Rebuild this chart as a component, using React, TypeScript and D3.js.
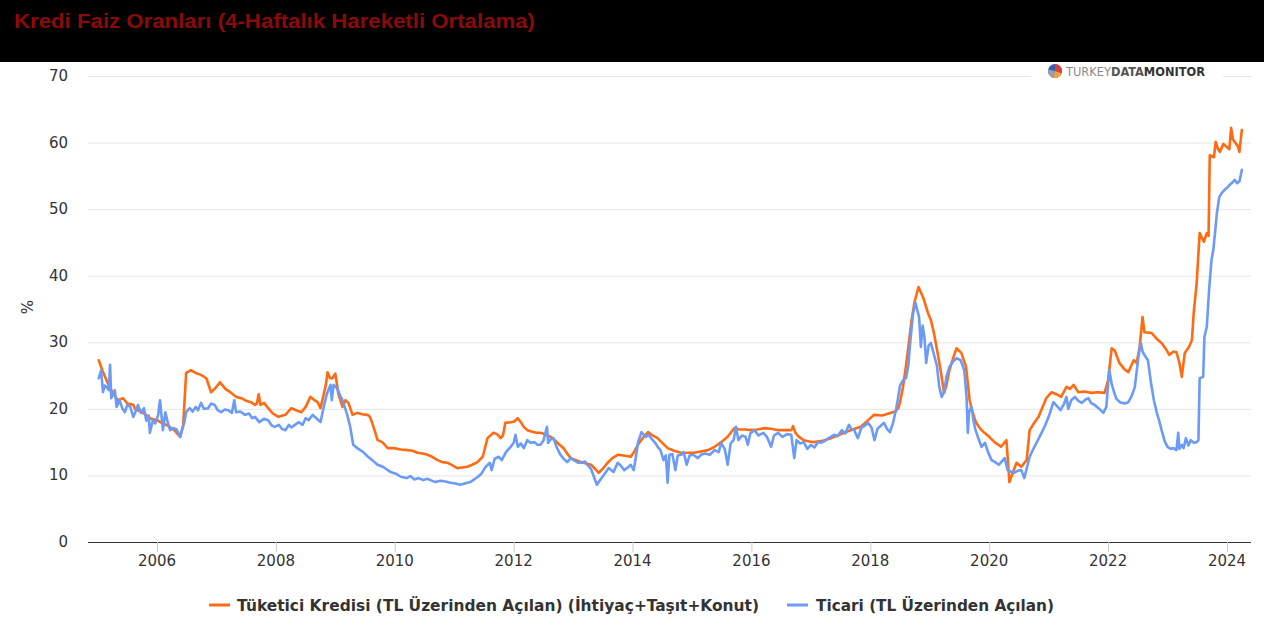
import * as d3 from "d3";

// decimal year, %
const tuketici: [number, number][] = [
  [2005.02, 27.3], [2005.08, 25.8], [2005.17, 23.9], [2005.25, 22.5], [2005.34, 21.3], [2005.43, 21.6],
  [2005.5, 20.8], [2005.6, 20.6], [2005.63, 20.0], [2005.72, 19.6], [2005.8, 19.2], [2005.9, 18.5],
  [2006.0, 18.3], [2006.1, 17.8], [2006.2, 17.4], [2006.3, 16.7], [2006.39, 15.8], [2006.44, 17.5],
  [2006.49, 25.4], [2006.57, 25.8], [2006.65, 25.4], [2006.74, 25.1], [2006.83, 24.6], [2006.91, 22.5],
  [2006.97, 23.0], [2007.06, 24.0], [2007.15, 23.0], [2007.25, 22.4], [2007.33, 21.8], [2007.42, 21.6],
  [2007.5, 21.2], [2007.58, 21.0], [2007.65, 20.6], [2007.68, 20.8], [2007.71, 22.2], [2007.74, 20.6],
  [2007.8, 20.9], [2007.87, 20.1], [2007.95, 19.3], [2008.04, 18.8], [2008.16, 19.1], [2008.26, 20.1],
  [2008.34, 19.8], [2008.43, 19.5], [2008.5, 20.3], [2008.58, 21.8], [2008.65, 21.3], [2008.7, 21.0],
  [2008.75, 20.1], [2008.8, 22.0], [2008.84, 23.6], [2008.87, 25.5], [2008.91, 24.6], [2008.95, 24.6],
  [2009.0, 25.3], [2009.05, 22.3], [2009.12, 20.3], [2009.17, 21.3], [2009.22, 20.9], [2009.29, 19.1],
  [2009.37, 19.4], [2009.45, 19.2], [2009.54, 19.1], [2009.58, 18.8], [2009.62, 17.9], [2009.67, 16.5],
  [2009.71, 15.3], [2009.79, 15.0], [2009.88, 14.1], [2009.98, 14.1], [2010.1, 13.9], [2010.21, 13.8],
  [2010.3, 13.7], [2010.38, 13.4], [2010.47, 13.3], [2010.55, 13.1], [2010.63, 12.8], [2010.72, 12.3],
  [2010.8, 12.0], [2010.89, 11.9], [2010.97, 11.5], [2011.05, 11.1], [2011.13, 11.2], [2011.22, 11.3],
  [2011.3, 11.6], [2011.39, 12.0], [2011.48, 12.8], [2011.52, 14.2], [2011.56, 15.6], [2011.66, 16.4],
  [2011.72, 16.2], [2011.78, 15.6], [2011.82, 16.0], [2011.86, 17.9], [2011.95, 18.0], [2012.01, 18.1],
  [2012.07, 18.6], [2012.12, 18.0], [2012.17, 17.3], [2012.23, 16.8], [2012.3, 16.6], [2012.38, 16.4],
  [2012.45, 16.4], [2012.53, 16.2], [2012.62, 15.8], [2012.7, 15.2], [2012.77, 14.6], [2012.84, 14.1],
  [2012.9, 13.3], [2012.96, 12.6], [2013.05, 12.3], [2013.13, 12.0], [2013.22, 11.8], [2013.3, 11.6],
  [2013.37, 11.0], [2013.43, 10.4], [2013.5, 11.0], [2013.58, 11.9], [2013.66, 12.6], [2013.75, 13.1],
  [2013.85, 13.0], [2013.97, 12.8], [2014.03, 13.6], [2014.09, 14.6], [2014.17, 15.6], [2014.26, 16.5],
  [2014.34, 16.0], [2014.42, 15.6], [2014.5, 14.9], [2014.59, 14.1], [2014.7, 13.7], [2014.81, 13.4],
  [2014.92, 13.4], [2015.03, 13.4], [2015.15, 13.6], [2015.27, 13.8], [2015.38, 14.3], [2015.49, 15.0],
  [2015.6, 15.8], [2015.71, 17.1], [2015.8, 16.9], [2015.9, 16.9], [2015.99, 16.8], [2016.1, 16.9],
  [2016.21, 17.1], [2016.33, 17.0], [2016.45, 16.8], [2016.56, 16.8], [2016.67, 16.8], [2016.7, 17.4],
  [2016.74, 16.4], [2016.8, 15.8], [2016.88, 15.3], [2016.97, 15.1], [2017.05, 15.0], [2017.2, 15.2],
  [2017.34, 15.6], [2017.45, 16.0], [2017.56, 16.4], [2017.7, 16.9], [2017.84, 17.3], [2017.95, 18.2],
  [2018.06, 19.1], [2018.2, 19.0], [2018.35, 19.4], [2018.42, 19.6], [2018.47, 20.1], [2018.5, 21.0],
  [2018.55, 23.3], [2018.6, 26.5], [2018.64, 29.3], [2018.69, 33.0], [2018.74, 35.9], [2018.81, 38.3],
  [2018.89, 36.7], [2018.97, 34.4], [2019.02, 33.3], [2019.07, 31.4], [2019.13, 28.5], [2019.19, 25.4],
  [2019.24, 22.4], [2019.28, 23.5], [2019.33, 25.8], [2019.4, 27.8], [2019.45, 29.1], [2019.53, 28.4],
  [2019.61, 26.3], [2019.67, 21.3], [2019.72, 19.5], [2019.78, 17.9], [2019.85, 17.0], [2019.92, 16.4],
  [2020.0, 15.8], [2020.09, 15.0], [2020.2, 14.3], [2020.29, 15.3], [2020.34, 9.0], [2020.4, 10.5],
  [2020.46, 11.9], [2020.54, 11.3], [2020.63, 12.3], [2020.68, 16.8], [2020.75, 17.8], [2020.83, 18.8],
  [2020.9, 20.3], [2020.96, 21.6], [2021.05, 22.5], [2021.13, 22.2], [2021.21, 21.8], [2021.3, 23.3],
  [2021.36, 23.0], [2021.42, 23.6], [2021.5, 22.5], [2021.6, 22.6], [2021.72, 22.4], [2021.83, 22.5],
  [2021.94, 22.4], [2022.0, 24.3], [2022.06, 29.1], [2022.11, 28.8], [2022.19, 26.9], [2022.27, 26.0],
  [2022.34, 25.5], [2022.43, 27.3], [2022.48, 26.9], [2022.53, 29.3], [2022.58, 33.8], [2022.61, 31.5],
  [2022.73, 31.4], [2022.82, 30.5], [2022.9, 29.9], [2022.97, 29.0], [2023.03, 28.1], [2023.1, 28.6],
  [2023.15, 28.5], [2023.2, 26.9], [2023.24, 24.8], [2023.29, 28.4], [2023.36, 29.3], [2023.41, 30.3],
  [2023.44, 34.4], [2023.49, 38.9], [2023.54, 46.4], [2023.61, 45.1], [2023.66, 46.4], [2023.69, 46.0],
  [2023.71, 58.1], [2023.78, 57.8], [2023.81, 60.1], [2023.85, 59.0], [2023.88, 58.6], [2023.94, 59.8],
  [2024.0, 59.3], [2024.04, 59.0], [2024.07, 62.2], [2024.1, 60.5], [2024.13, 60.1], [2024.18, 59.5],
  [2024.21, 58.6], [2024.25, 61.9],
];

const ticari: [number, number][] = [
  [2005.02, 24.6], [2005.06, 25.8], [2005.09, 22.5], [2005.12, 23.5], [2005.15, 23.3], [2005.19, 22.8],
  [2005.21, 26.6], [2005.23, 21.6], [2005.29, 22.8], [2005.32, 20.3], [2005.37, 21.3], [2005.42, 20.0],
  [2005.46, 19.5], [2005.5, 20.6], [2005.55, 20.3], [2005.6, 18.8], [2005.64, 19.6], [2005.68, 20.6],
  [2005.73, 19.4], [2005.78, 20.1], [2005.82, 18.2], [2005.86, 19.0], [2005.88, 16.4], [2005.93, 18.3],
  [2005.97, 17.8], [2006.02, 19.1], [2006.05, 21.3], [2006.1, 16.8], [2006.14, 19.5], [2006.18, 18.0],
  [2006.22, 16.8], [2006.28, 17.1], [2006.33, 16.9], [2006.39, 15.8], [2006.42, 16.8], [2006.46, 18.0],
  [2006.49, 19.5], [2006.55, 20.1], [2006.6, 19.6], [2006.65, 20.3], [2006.69, 19.8], [2006.74, 20.9],
  [2006.79, 20.0], [2006.86, 20.1], [2006.91, 20.8], [2006.97, 20.6], [2007.02, 19.8], [2007.08, 19.5],
  [2007.14, 19.9], [2007.2, 19.8], [2007.26, 19.4], [2007.3, 21.3], [2007.33, 19.5], [2007.4, 19.6],
  [2007.48, 19.1], [2007.55, 19.3], [2007.6, 18.6], [2007.65, 18.8], [2007.72, 18.0], [2007.8, 18.5],
  [2007.87, 18.3], [2007.93, 17.5], [2007.98, 17.3], [2008.05, 17.6], [2008.1, 17.0], [2008.16, 16.8],
  [2008.22, 17.6], [2008.26, 17.2], [2008.32, 17.6], [2008.38, 18.0], [2008.45, 17.6], [2008.5, 18.6],
  [2008.55, 18.3], [2008.62, 19.1], [2008.68, 18.6], [2008.75, 18.0], [2008.8, 20.1], [2008.85, 22.0],
  [2008.88, 22.8], [2008.92, 23.6], [2008.94, 21.3], [2008.97, 23.6], [2009.03, 23.1], [2009.08, 22.0],
  [2009.12, 21.3], [2009.2, 19.1], [2009.25, 17.3], [2009.3, 14.6], [2009.37, 14.1], [2009.47, 13.5],
  [2009.55, 12.8], [2009.62, 12.3], [2009.71, 11.6], [2009.8, 11.3], [2009.93, 10.5], [2010.03, 10.2],
  [2010.1, 9.8], [2010.2, 9.6], [2010.26, 9.9], [2010.33, 9.4], [2010.4, 9.6], [2010.48, 9.3],
  [2010.55, 9.5], [2010.6, 9.3], [2010.68, 9.0], [2010.77, 9.2], [2010.85, 9.1], [2010.94, 8.9],
  [2011.02, 8.8], [2011.1, 8.6], [2011.18, 8.8], [2011.27, 9.0], [2011.35, 9.5], [2011.4, 9.8],
  [2011.46, 10.3], [2011.53, 11.3], [2011.6, 11.9], [2011.63, 10.8], [2011.68, 12.5], [2011.75, 12.8],
  [2011.8, 12.3], [2011.87, 13.5], [2011.95, 14.3], [2012.0, 14.9], [2012.03, 16.1], [2012.07, 14.3],
  [2012.12, 14.8], [2012.17, 14.1], [2012.23, 15.3], [2012.28, 14.9], [2012.35, 15.0], [2012.4, 14.6],
  [2012.45, 14.6], [2012.5, 15.2], [2012.56, 17.3], [2012.58, 14.9], [2012.62, 15.4], [2012.67, 15.6],
  [2012.72, 14.3], [2012.78, 13.2], [2012.84, 12.5], [2012.9, 12.0], [2012.96, 12.6], [2013.03, 12.2],
  [2013.08, 11.9], [2013.13, 11.9], [2013.2, 12.1], [2013.24, 11.6], [2013.3, 11.0], [2013.35, 9.8],
  [2013.4, 8.6], [2013.46, 9.4], [2013.52, 10.1], [2013.6, 11.1], [2013.68, 10.5], [2013.75, 11.9],
  [2013.8, 11.5], [2013.86, 10.8], [2013.92, 11.2], [2013.97, 11.6], [2014.02, 10.8], [2014.06, 13.0],
  [2014.09, 14.9], [2014.15, 16.5], [2014.22, 15.8], [2014.27, 16.1], [2014.33, 15.4], [2014.38, 14.9],
  [2014.43, 14.2], [2014.47, 13.8], [2014.52, 12.3], [2014.56, 13.0], [2014.59, 8.9], [2014.62, 13.1],
  [2014.67, 13.2], [2014.72, 10.8], [2014.76, 13.0], [2014.82, 13.1], [2014.86, 13.5], [2014.91, 11.6],
  [2014.96, 13.0], [2015.02, 13.1], [2015.1, 12.6], [2015.15, 13.1], [2015.22, 13.3], [2015.3, 13.1],
  [2015.38, 13.8], [2015.45, 13.5], [2015.49, 14.9], [2015.55, 14.0], [2015.6, 11.6], [2015.65, 14.8],
  [2015.7, 15.3], [2015.74, 17.3], [2015.78, 15.3], [2015.84, 16.0], [2015.9, 15.8], [2015.94, 14.6],
  [2015.98, 16.3], [2016.05, 16.8], [2016.12, 16.0], [2016.2, 16.4], [2016.26, 15.8], [2016.33, 14.3],
  [2016.38, 16.0], [2016.45, 16.4], [2016.52, 15.8], [2016.6, 16.2], [2016.67, 16.1], [2016.72, 12.6],
  [2016.76, 15.3], [2016.82, 14.8], [2016.88, 15.0], [2016.94, 14.0], [2017.0, 14.6], [2017.06, 14.2],
  [2017.12, 15.0], [2017.17, 14.9], [2017.24, 15.2], [2017.3, 15.6], [2017.39, 16.1], [2017.45, 15.9],
  [2017.52, 16.8], [2017.58, 16.3], [2017.64, 17.6], [2017.68, 17.0], [2017.73, 16.8], [2017.79, 15.6],
  [2017.85, 17.2], [2017.91, 17.5], [2017.96, 17.9], [2018.02, 17.2], [2018.07, 15.3], [2018.12, 17.0],
  [2018.18, 17.5], [2018.23, 17.9], [2018.28, 17.0], [2018.33, 16.5], [2018.38, 17.8], [2018.43, 19.8],
  [2018.46, 21.3], [2018.5, 23.5], [2018.55, 24.3], [2018.6, 24.6], [2018.64, 26.5], [2018.67, 29.9],
  [2018.72, 34.4], [2018.76, 35.9], [2018.8, 34.5], [2018.82, 33.8], [2018.85, 29.3], [2018.88, 32.5],
  [2018.91, 30.8], [2018.94, 26.9], [2018.98, 29.5], [2019.02, 29.9], [2019.08, 27.8], [2019.12, 26.5],
  [2019.16, 23.3], [2019.2, 21.8], [2019.24, 22.5], [2019.28, 24.8], [2019.33, 26.3], [2019.4, 27.2],
  [2019.45, 27.6], [2019.52, 27.3], [2019.58, 25.8], [2019.62, 21.6], [2019.64, 16.4], [2019.66, 19.5],
  [2019.7, 20.3], [2019.74, 18.0], [2019.77, 16.8], [2019.82, 15.5], [2019.87, 14.3], [2019.93, 14.9],
  [2019.98, 13.5], [2020.04, 12.3], [2020.1, 12.0], [2020.16, 11.6], [2020.22, 12.2], [2020.26, 12.6],
  [2020.31, 10.8], [2020.36, 10.6], [2020.42, 10.4], [2020.48, 10.7], [2020.54, 10.8], [2020.59, 9.6],
  [2020.63, 11.0], [2020.68, 12.8], [2020.76, 14.3], [2020.83, 15.5], [2020.88, 16.4], [2020.94, 17.5],
  [2021.0, 18.8], [2021.08, 21.0], [2021.14, 20.4], [2021.2, 19.8], [2021.26, 20.8], [2021.3, 21.8],
  [2021.33, 20.0], [2021.38, 21.3], [2021.44, 21.8], [2021.5, 21.2], [2021.56, 20.9], [2021.62, 21.4],
  [2021.67, 21.6], [2021.71, 20.9], [2021.77, 20.6], [2021.84, 20.1], [2021.92, 19.4], [2021.97, 20.3],
  [2022.02, 25.8], [2022.06, 23.8], [2022.09, 22.8], [2022.14, 21.5], [2022.2, 21.0], [2022.28, 20.8],
  [2022.34, 21.0], [2022.4, 22.0], [2022.45, 23.3], [2022.51, 27.8], [2022.55, 29.9], [2022.58, 28.6],
  [2022.61, 28.1], [2022.67, 27.3], [2022.72, 24.0], [2022.77, 21.3], [2022.82, 19.4], [2022.86, 18.2],
  [2022.9, 16.8], [2022.95, 15.2], [2023.0, 14.3], [2023.05, 14.0], [2023.1, 14.1], [2023.15, 13.8],
  [2023.18, 16.4], [2023.2, 14.0], [2023.24, 14.6], [2023.27, 14.1], [2023.31, 15.6], [2023.35, 14.5],
  [2023.39, 15.3], [2023.44, 14.9], [2023.49, 15.0], [2023.52, 15.3], [2023.54, 24.6], [2023.6, 24.8],
  [2023.62, 30.8], [2023.66, 32.3], [2023.7, 38.0], [2023.74, 42.4], [2023.77, 43.9], [2023.8, 46.5],
  [2023.83, 49.4], [2023.87, 51.8], [2023.91, 52.4], [2023.96, 52.9], [2024.0, 53.2], [2024.04, 53.6],
  [2024.09, 54.0], [2024.13, 54.4], [2024.17, 53.9], [2024.21, 54.2], [2024.25, 55.9],
];

const yTicks = [0, 10, 20, 30, 40, 50, 60, 70];
const xTicks = [2006, 2008, 2010, 2012, 2014, 2016, 2018, 2020, 2022, 2024];

const title = "Kredi Faiz Oranları (4-Haftalık Hareketli Ortalama)";
const seriesNames = ["Tüketici Kredisi (TL Üzerinden Açılan) (İhtiyaç+Taşıt+Konut)", "Ticari (TL Üzerinden Açılan)"];
const seriesColors = ["#ff6a13", "#6b9bf7"];

const W = 1264;
const H = 641;
const plot = { left: 88, right: 1251, top: 76, bottom: 542 };
const font = "'DejaVu Sans', Verdana, sans-serif";

function App() {
  const x = d3.scaleLinear().domain([2004.839, 2024.404]).range([plot.left, plot.right]);
  const y = d3.scaleLinear().domain([0, 70]).range([plot.bottom, plot.top]);
  const line = d3.line<[number, number]>().x((d) => x(d[0])).y((d) => y(d[1]));

  return (
    <svg width={W} height={H} style={{ position: "absolute", left: 0, top: 0, background: "#fff" }}>
      <rect x={0} y={0} width={W} height={62} fill="#000" />
      <text x={14} y={28} fontFamily="'Liberation Sans', Arial, sans-serif" fontWeight="bold" fontSize={20}
        fill="#8b0a0a" textLength={521} lengthAdjust="spacingAndGlyphs">{title}</text>

      {/* grid */}
      {yTicks.filter((t) => t > 0).map((t) => (
        <line key={t} x1={plot.left} x2={plot.right} y1={y(t) + 0.5} y2={y(t) + 0.5} stroke="#e6e6e6" />
      ))}
      {yTicks.map((t) => (
        <text key={t} x={68} y={y(t) + 5} textAnchor="end" fontFamily={font} fontSize={15} fill="#333">{t}</text>
      ))}
      <text transform={`translate(33, 307) rotate(-90)`} textAnchor="middle" fontFamily={font} fontSize={15} fill="#333">%</text>

      {/* logo */}
      <rect x={1031} y={63} width={192} height={17} fill="#fff" />
      <g transform="translate(1055, 71)">
        <circle r={7} fill="#3b5ba9" />
        <path d="M0,0 L0,-7 A7,7 0 0,1 6.6,2.3 Z" fill="#d9413b" />
        <path d="M0,0 L6.6,2.3 A7,7 0 0,1 -2,6.7 Z" fill="#f0a33a" />
        <path d="M0,0 L-2,6.7 A7,7 0 0,1 -6.8,-1.5 Z" fill="#9aa0ab" />
      </g>
      <text x={1066} y={76} fontFamily="'DejaVu Sans Condensed', 'DejaVu Sans', sans-serif" fontSize={13}
        textLength={139} lengthAdjust="spacingAndGlyphs">
        <tspan fill="#8a8a8a">TURKEY</tspan>
        <tspan fill="#555" fontWeight="bold">DATA</tspan>
        <tspan fill="#333" fontWeight="bold">MONITOR</tspan>
      </text>

      {/* x axis */}
      <line x1={plot.left} x2={plot.right} y1={plot.bottom + 0.5} y2={plot.bottom + 0.5} stroke="#333" />
      {xTicks.map((t) => (
        <g key={t} transform={`translate(${x(t)}, 0)`}>
          <line x1={0.5} x2={0.5} y1={plot.bottom} y2={plot.bottom + 10} stroke="#ccc" />
          <text y={plot.bottom + 24} textAnchor="middle" fontFamily={font} fontSize={15} fill="#333">{t}</text>
        </g>
      ))}

      {/* series */}
      {[tuketici, ticari].map((s, i) => (
        <path key={i} d={line(s) ?? ""} fill="none" stroke={seriesColors[i]} strokeWidth={2.6} strokeLinejoin="round" strokeLinecap="round" />
      ))}

      {/* legend */}
      {[{ sx: 209, tx: 237, w: 522 }, { sx: 787, tx: 816, w: 238 }].map((p, i) => (
        <g key={i}>
          <line x1={p.sx} x2={p.sx + 21} y1={605} y2={605} stroke={seriesColors[i]} strokeWidth={3} />
          <text x={p.tx} y={611} fontFamily="'DejaVu Sans Condensed', 'DejaVu Sans', sans-serif" fontWeight="bold" fontSize={15}
            fill="#333" textLength={p.w} lengthAdjust="spacingAndGlyphs">{seriesNames[i]}</text>
        </g>
      ))}
    </svg>
  );
}

export default App;
